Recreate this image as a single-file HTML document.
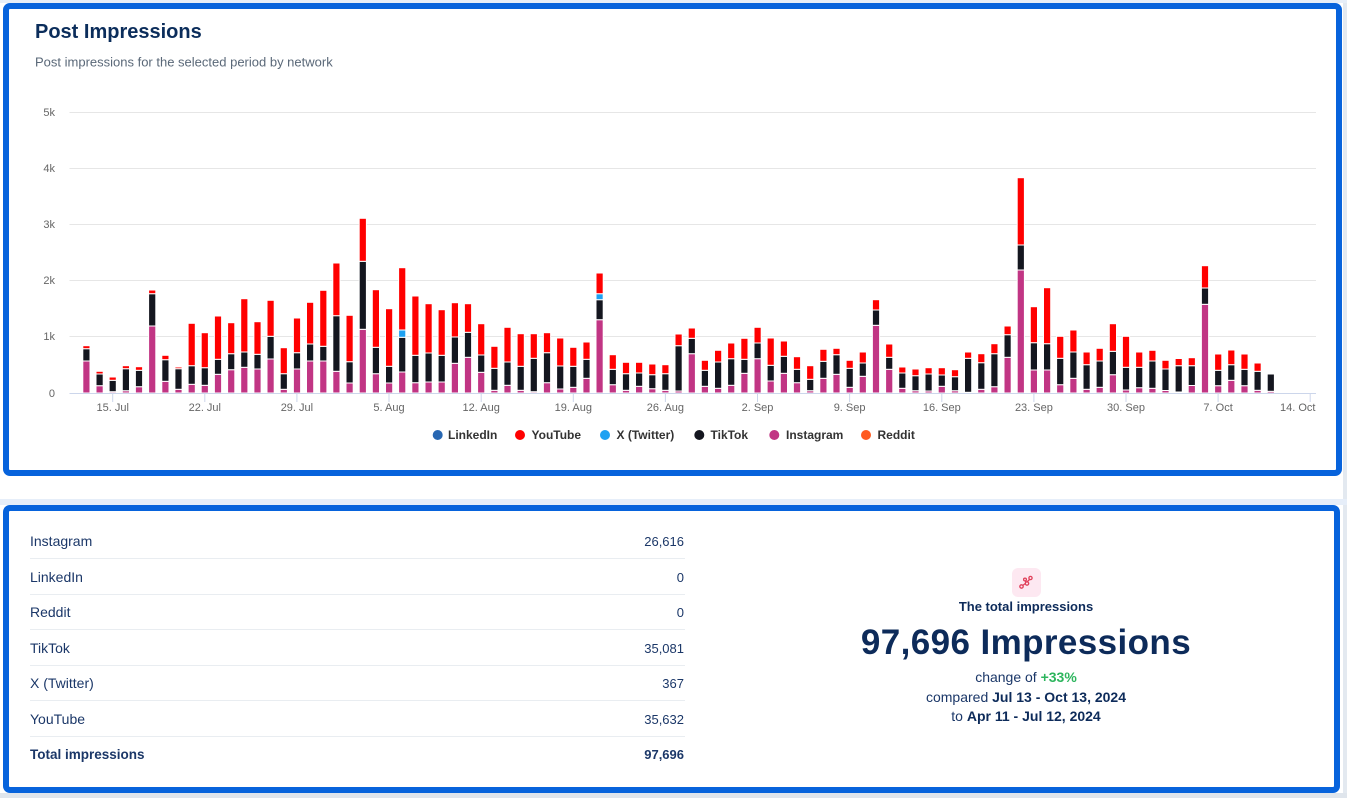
<!DOCTYPE html>
<html><head><meta charset="utf-8"><style>
*{margin:0;padding:0;box-sizing:border-box}
html,body{width:1347px;height:798px;overflow:hidden;background:#fff;font-family:"Liberation Sans",sans-serif}
.abs{position:absolute}
.panel{position:absolute;border:6px solid #0763dc;border-radius:7px;background:#fff}
.bars rect{width:7.2px;stroke:#fff;stroke-width:1}
.i{fill:#c13584}.t{fill:#14161f}.y{fill:#ff0000}.w{fill:#1da1f2}
.row{position:absolute;left:30px;width:655px;height:35px;border-bottom:1px solid #e9edf1;color:#1b3768;font-size:14px;line-height:35px}
.row span{position:absolute;right:1px;top:0;font-size:13px}
.row.tot{border-bottom:none;font-weight:bold;font-size:13.5px}
.c{position:absolute;left:726px;width:600px;text-align:center;color:#0d2b5a}
</style></head><body>
<div class="abs" style="left:1343px;top:0;width:4px;height:798px;background:#e3e9f0"></div>
<div class="abs" style="left:0;top:0;width:1347px;height:3px;background:#e6eef8"></div>
<div class="abs" style="left:0;top:499px;width:1347px;height:6px;background:#e6eef9"></div>
<div class="abs" style="left:0;top:793px;width:1347px;height:5px;background:#dfe5ec"></div>
<div class="panel" style="left:3px;top:3px;width:1339px;height:473px"></div>
<div class="panel" style="left:3px;top:505px;width:1337px;height:288px"></div>

<svg class="abs" style="left:0;top:0" width="1347" height="480" viewBox="0 0 1347 480" font-family="Liberation Sans, sans-serif">
<text x="35" y="38" font-size="20" font-weight="bold" fill="#0b2d5b">Post Impressions</text>
<text x="35" y="66.5" font-size="13" fill="#5a6878">Post impressions for the selected period by network</text>
<g stroke="#e6e6e6" stroke-width="1">
<line x1="69.5" x2="1316" y1="112.5" y2="112.5"/>
<line x1="69.5" x2="1316" y1="168.5" y2="168.5"/>
<line x1="69.5" x2="1316" y1="224.5" y2="224.5"/>
<line x1="69.5" x2="1316" y1="280.5" y2="280.5"/>
<line x1="69.5" x2="1316" y1="336.5" y2="336.5"/>
</g>
<g font-size="11" fill="#666" text-anchor="end">
<text x="55" y="116">5k</text><text x="55" y="172">4k</text><text x="55" y="228">3k</text>
<text x="55" y="284">2k</text><text x="55" y="340">1k</text><text x="55" y="397">0</text>
</g>
<g class="bars" transform="translate(-0.4,0)">
<g transform="translate(83.2)"><rect class="i" y="361" height="32"/><rect class="t" y="348.7" height="12.3"/><rect class="y" y="345.7" height="3"/></g>
<g transform="translate(96.4)"><rect class="i" y="385.7" height="7.3"/><rect class="t" y="374" height="11.7"/><rect class="y" y="371.3" height="2.7"/></g>
<g transform="translate(109.5)"><rect class="i" y="391.7" height="1.3"/><rect class="t" y="380.3" height="11.4"/><rect class="y" y="377" height="3.3"/></g>
<g transform="translate(122.7)"><rect class="i" y="390.7" height="2.3"/><rect class="t" y="368.7" height="22"/><rect class="y" y="365.7" height="3"/></g>
<g transform="translate(135.8)"><rect class="i" y="386.7" height="6.3"/><rect class="t" y="370.3" height="16.4"/><rect class="y" y="366.7" height="3.6"/></g>
<g transform="translate(149)"><rect class="i" y="326" height="67"/><rect class="t" y="293.7" height="32.3"/><rect class="y" y="290" height="3.7"/></g>
<g transform="translate(162.2)"><rect class="i" y="381.3" height="11.7"/><rect class="t" y="359.7" height="21.6"/><rect class="y" y="355.3" height="4.4"/></g>
<g transform="translate(175.3)"><rect class="i" y="389.3" height="3.7"/><rect class="t" y="368.7" height="20.6"/><rect class="y" y="367" height="1.7"/></g>
<g transform="translate(188.5)"><rect class="i" y="384.3" height="8.7"/><rect class="t" y="365.7" height="18.6"/><rect class="y" y="323.3" height="42.4"/></g>
<g transform="translate(201.6)"><rect class="i" y="385.3" height="7.7"/><rect class="t" y="367.7" height="17.6"/><rect class="y" y="332.7" height="35"/></g>
<g transform="translate(214.8)"><rect class="i" y="374.3" height="18.7"/><rect class="t" y="359.3" height="15"/><rect class="y" y="316" height="43.3"/></g>
<g transform="translate(228)"><rect class="i" y="369.7" height="23.3"/><rect class="t" y="353.7" height="16"/><rect class="y" y="322.7" height="31"/></g>
<g transform="translate(241.1)"><rect class="i" y="367.3" height="25.7"/><rect class="t" y="352" height="15.3"/><rect class="y" y="298.7" height="53.3"/></g>
<g transform="translate(254.3)"><rect class="i" y="369" height="24"/><rect class="t" y="354.3" height="14.7"/><rect class="y" y="321.7" height="32.6"/></g>
<g transform="translate(267.4)"><rect class="i" y="359" height="34"/><rect class="t" y="336.3" height="22.7"/><rect class="y" y="300.3" height="36"/></g>
<g transform="translate(280.6)"><rect class="i" y="389.3" height="3.7"/><rect class="t" y="373.7" height="15.6"/><rect class="y" y="347.7" height="26"/></g>
<g transform="translate(293.8)"><rect class="i" y="369" height="24"/><rect class="t" y="352.7" height="16.3"/><rect class="y" y="318" height="34.7"/></g>
<g transform="translate(306.9)"><rect class="i" y="361" height="32"/><rect class="t" y="344" height="17"/><rect class="y" y="302.3" height="41.7"/></g>
<g transform="translate(320.1)"><rect class="i" y="361" height="32"/><rect class="t" y="346.3" height="14.7"/><rect class="y" y="290.3" height="56"/></g>
<g transform="translate(333.2)"><rect class="i" y="371.3" height="21.7"/><rect class="t" y="315.7" height="55.6"/><rect class="y" y="263" height="52.7"/></g>
<g transform="translate(346.4)"><rect class="i" y="383" height="10"/><rect class="t" y="361.7" height="21.3"/><rect class="y" y="315.3" height="46.4"/></g>
<g transform="translate(359.6)"><rect class="i" y="329.3" height="63.7"/><rect class="t" y="261.3" height="68"/><rect class="y" y="218.3" height="43"/></g>
<g transform="translate(372.7)"><rect class="i" y="373.7" height="19.3"/><rect class="t" y="347.3" height="26.4"/><rect class="y" y="289.7" height="57.6"/></g>
<g transform="translate(385.9)"><rect class="i" y="383" height="10"/><rect class="t" y="366.3" height="16.7"/><rect class="y" y="308.7" height="57.6"/></g>
<g transform="translate(399)"><rect class="i" y="372" height="21"/><rect class="t" y="337.3" height="34.7"/><rect class="w" y="330" height="7.3"/><rect class="y" y="267.7" height="62.3"/></g>
<g transform="translate(412.2)"><rect class="i" y="382.7" height="10.3"/><rect class="t" y="355.3" height="27.4"/><rect class="y" y="296" height="59.3"/></g>
<g transform="translate(425.4)"><rect class="i" y="382" height="11"/><rect class="t" y="353" height="29"/><rect class="y" y="303.7" height="49.3"/></g>
<g transform="translate(438.5)"><rect class="i" y="382" height="11"/><rect class="t" y="355.3" height="26.7"/><rect class="y" y="309.7" height="45.6"/></g>
<g transform="translate(451.7)"><rect class="i" y="363.3" height="29.7"/><rect class="t" y="337" height="26.3"/><rect class="y" y="302.7" height="34.3"/></g>
<g transform="translate(464.8)"><rect class="i" y="357.3" height="35.7"/><rect class="t" y="332.3" height="25"/><rect class="y" y="303.7" height="28.6"/></g>
<g transform="translate(478)"><rect class="i" y="372.3" height="20.7"/><rect class="t" y="355" height="17.3"/><rect class="y" y="323.7" height="31.3"/></g>
<g transform="translate(491.2)"><rect class="i" y="390.3" height="2.7"/><rect class="t" y="368.3" height="22"/><rect class="y" y="346.3" height="22"/></g>
<g transform="translate(504.3)"><rect class="i" y="385.3" height="7.7"/><rect class="t" y="362" height="23.3"/><rect class="y" y="327.3" height="34.7"/></g>
<g transform="translate(517.5)"><rect class="i" y="390.3" height="2.7"/><rect class="t" y="366.3" height="24"/><rect class="y" y="333.7" height="32.6"/></g>
<g transform="translate(530.6)"><rect class="i" y="391.7" height="1.3"/><rect class="t" y="358.3" height="33.4"/><rect class="y" y="333.7" height="24.6"/></g>
<g transform="translate(543.8)"><rect class="i" y="382.7" height="10.3"/><rect class="t" y="352.7" height="30"/><rect class="y" y="332.7" height="20"/></g>
<g transform="translate(557)"><rect class="i" y="389" height="4"/><rect class="t" y="366" height="23"/><rect class="y" y="338" height="28"/></g>
<g transform="translate(570.1)"><rect class="i" y="387.3" height="5.7"/><rect class="t" y="366.3" height="21"/><rect class="y" y="347.3" height="19"/></g>
<g transform="translate(583.3)"><rect class="i" y="378.3" height="14.7"/><rect class="t" y="359.3" height="19"/><rect class="y" y="342" height="17.3"/></g>
<g transform="translate(596.4)"><rect class="i" y="319.7" height="73.3"/><rect class="t" y="299.7" height="20"/><rect class="w" y="293.7" height="6"/><rect class="y" y="273" height="20.7"/></g>
<g transform="translate(609.6)"><rect class="i" y="384.7" height="8.3"/><rect class="t" y="369.3" height="15.4"/><rect class="y" y="354.7" height="14.6"/></g>
<g transform="translate(622.8)"><rect class="i" y="390.3" height="2.7"/><rect class="t" y="373.7" height="16.6"/><rect class="y" y="362.3" height="11.4"/></g>
<g transform="translate(635.9)"><rect class="i" y="386.3" height="6.7"/><rect class="t" y="373" height="13.3"/><rect class="y" y="362.3" height="10.7"/></g>
<g transform="translate(649.1)"><rect class="i" y="388.7" height="4.3"/><rect class="t" y="374.7" height="14"/><rect class="y" y="364" height="10.7"/></g>
<g transform="translate(662.2)"><rect class="i" y="390.3" height="2.7"/><rect class="t" y="373.7" height="16.6"/><rect class="y" y="364.7" height="9"/></g>
<g transform="translate(675.4)"><rect class="i" y="391" height="2"/><rect class="t" y="345.7" height="45.3"/><rect class="y" y="334" height="11.7"/></g>
<g transform="translate(688.6)"><rect class="i" y="353.7" height="39.3"/><rect class="t" y="338.3" height="15.4"/><rect class="y" y="328" height="10.3"/></g>
<g transform="translate(701.7)"><rect class="i" y="386.3" height="6.7"/><rect class="t" y="370.3" height="16"/><rect class="y" y="360.3" height="10"/></g>
<g transform="translate(714.9)"><rect class="i" y="388.3" height="4.7"/><rect class="t" y="362" height="26.3"/><rect class="y" y="350.3" height="11.7"/></g>
<g transform="translate(728)"><rect class="i" y="385.3" height="7.7"/><rect class="t" y="358.7" height="26.6"/><rect class="y" y="343" height="15.7"/></g>
<g transform="translate(741.2)"><rect class="i" y="373.3" height="19.7"/><rect class="t" y="359.3" height="14"/><rect class="y" y="338.3" height="21"/></g>
<g transform="translate(754.4)"><rect class="i" y="358.7" height="34.3"/><rect class="t" y="343" height="15.7"/><rect class="y" y="327.3" height="15.7"/></g>
<g transform="translate(767.5)"><rect class="i" y="381" height="12"/><rect class="t" y="365.3" height="15.7"/><rect class="y" y="338" height="27.3"/></g>
<g transform="translate(780.7)"><rect class="i" y="373.3" height="19.7"/><rect class="t" y="356.3" height="17"/><rect class="y" y="341" height="15.3"/></g>
<g transform="translate(793.8)"><rect class="i" y="382.7" height="10.3"/><rect class="t" y="369.3" height="13.4"/><rect class="y" y="356.7" height="12.6"/></g>
<g transform="translate(807)"><rect class="i" y="390.7" height="2.3"/><rect class="t" y="379.3" height="11.4"/><rect class="y" y="365.7" height="13.6"/></g>
<g transform="translate(820.2)"><rect class="i" y="378.3" height="14.7"/><rect class="t" y="361.3" height="17"/><rect class="y" y="349.3" height="12"/></g>
<g transform="translate(833.3)"><rect class="i" y="374.3" height="18.7"/><rect class="t" y="354.7" height="19.6"/><rect class="y" y="348.3" height="6.4"/></g>
<g transform="translate(846.5)"><rect class="i" y="387.3" height="5.7"/><rect class="t" y="368.3" height="19"/><rect class="y" y="360.3" height="8"/></g>
<g transform="translate(859.6)"><rect class="i" y="376.3" height="16.7"/><rect class="t" y="363" height="13.3"/><rect class="y" y="352" height="11"/></g>
<g transform="translate(872.8)"><rect class="i" y="325.3" height="67.7"/><rect class="t" y="310" height="15.3"/><rect class="y" y="299.7" height="10.3"/></g>
<g transform="translate(886)"><rect class="i" y="369.3" height="23.7"/><rect class="t" y="357.3" height="12"/><rect class="y" y="344" height="13.3"/></g>
<g transform="translate(899.1)"><rect class="i" y="388.3" height="4.7"/><rect class="t" y="373" height="15.3"/><rect class="y" y="367" height="6"/></g>
<g transform="translate(912.3)"><rect class="i" y="390.7" height="2.3"/><rect class="t" y="375.7" height="15"/><rect class="y" y="369" height="6.7"/></g>
<g transform="translate(925.4)"><rect class="i" y="391" height="2"/><rect class="t" y="374" height="17"/><rect class="y" y="367.7" height="6.3"/></g>
<g transform="translate(938.6)"><rect class="i" y="386.3" height="6.7"/><rect class="t" y="375" height="11.3"/><rect class="y" y="367.7" height="7.3"/></g>
<g transform="translate(951.8)"><rect class="i" y="390.7" height="2.3"/><rect class="t" y="376.7" height="14"/><rect class="y" y="369.7" height="7"/></g>
<g transform="translate(964.9)"><rect class="i" y="392.3" height="0.7"/><rect class="t" y="358.3" height="34"/><rect class="y" y="352" height="6.3"/></g>
<g transform="translate(978.1)"><rect class="i" y="389.3" height="3.7"/><rect class="t" y="362.7" height="26.6"/><rect class="y" y="353.7" height="9"/></g>
<g transform="translate(991.2)"><rect class="i" y="386.7" height="6.3"/><rect class="t" y="353.7" height="33"/><rect class="y" y="343.7" height="10"/></g>
<g transform="translate(1004.4)"><rect class="i" y="357.3" height="35.7"/><rect class="t" y="334.7" height="22.6"/><rect class="y" y="326" height="8.7"/></g>
<g transform="translate(1017.6)"><rect class="i" y="270" height="123"/><rect class="t" y="245" height="25"/><rect class="y" y="177.7" height="67.3"/></g>
<g transform="translate(1030.7)"><rect class="i" y="370" height="23"/><rect class="t" y="342.7" height="27.3"/><rect class="y" y="306.7" height="36"/></g>
<g transform="translate(1043.9)"><rect class="i" y="370" height="23"/><rect class="t" y="343.7" height="26.3"/><rect class="y" y="287.7" height="56"/></g>
<g transform="translate(1057)"><rect class="i" y="384.7" height="8.3"/><rect class="t" y="358.3" height="26.4"/><rect class="y" y="336.3" height="22"/></g>
<g transform="translate(1070.2)"><rect class="i" y="378.3" height="14.7"/><rect class="t" y="352" height="26.3"/><rect class="y" y="330" height="22"/></g>
<g transform="translate(1083.4)"><rect class="i" y="389.3" height="3.7"/><rect class="t" y="364.7" height="24.6"/><rect class="y" y="352" height="12.7"/></g>
<g transform="translate(1096.5)"><rect class="i" y="387.3" height="5.7"/><rect class="t" y="361" height="26.3"/><rect class="y" y="348.3" height="12.7"/></g>
<g transform="translate(1109.7)"><rect class="i" y="374.7" height="18.3"/><rect class="t" y="351.3" height="23.4"/><rect class="y" y="323.7" height="27.6"/></g>
<g transform="translate(1122.8)"><rect class="i" y="390" height="3"/><rect class="t" y="367.3" height="22.7"/><rect class="y" y="336.3" height="31"/></g>
<g transform="translate(1136)"><rect class="i" y="387.7" height="5.3"/><rect class="t" y="367.3" height="20.4"/><rect class="y" y="352" height="15.3"/></g>
<g transform="translate(1149.2)"><rect class="i" y="388.3" height="4.7"/><rect class="t" y="361" height="27.3"/><rect class="y" y="350.3" height="10.7"/></g>
<g transform="translate(1162.3)"><rect class="i" y="390.5" height="2.5"/><rect class="t" y="369" height="21.5"/><rect class="y" y="360.3" height="8.7"/></g>
<g transform="translate(1175.5)"><rect class="i" y="392" height="1"/><rect class="t" y="365.7" height="26.3"/><rect class="y" y="358.5" height="7.2"/></g>
<g transform="translate(1188.6)"><rect class="i" y="385.5" height="7.5"/><rect class="t" y="365.7" height="19.8"/><rect class="y" y="357.7" height="8"/></g>
<g transform="translate(1201.8)"><rect class="i" y="304.3" height="88.7"/><rect class="t" y="288" height="16.3"/><rect class="y" y="265.7" height="22.3"/></g>
<g transform="translate(1215)"><rect class="i" y="385.7" height="7.3"/><rect class="t" y="370.3" height="15.4"/><rect class="y" y="354" height="16.3"/></g>
<g transform="translate(1228.1)"><rect class="i" y="380.3" height="12.7"/><rect class="t" y="364.7" height="15.6"/><rect class="y" y="350" height="14.7"/></g>
<g transform="translate(1241.3)"><rect class="i" y="385.7" height="7.3"/><rect class="t" y="369.3" height="16.4"/><rect class="y" y="354" height="15.3"/></g>
<g transform="translate(1254.4)"><rect class="i" y="390.3" height="2.7"/><rect class="t" y="371.3" height="19"/><rect class="y" y="363" height="8.3"/></g>
<g transform="translate(1267.6)"><rect class="i" y="391.3" height="1.7"/><rect class="t" y="374" height="17.3"/></g>
</g>
<line x1="69.5" x2="1316" y1="393.5" y2="393.5" stroke="#ccd6eb" stroke-width="1"/>
<g stroke="#ccd6eb" stroke-width="1">
<line x1="112.7" x2="112.7" y1="393" y2="402"/><line x1="204.8" x2="204.8" y1="393" y2="402"/>
<line x1="296.9" x2="296.9" y1="393" y2="402"/><line x1="389" x2="389" y1="393" y2="402"/>
<line x1="481.2" x2="481.2" y1="393" y2="402"/><line x1="573.3" x2="573.3" y1="393" y2="402"/>
<line x1="665.4" x2="665.4" y1="393" y2="402"/><line x1="757.5" x2="757.5" y1="393" y2="402"/>
<line x1="849.6" x2="849.6" y1="393" y2="402"/><line x1="941.8" x2="941.8" y1="393" y2="402"/>
<line x1="1033.9" x2="1033.9" y1="393" y2="402"/><line x1="1126" x2="1126" y1="393" y2="402"/>
<line x1="1218.1" x2="1218.1" y1="393" y2="402"/><line x1="1310.2" x2="1310.2" y1="393" y2="402"/>
</g>
<g font-size="11" fill="#666" text-anchor="middle">
<text x="112.7" y="411">15. Jul</text><text x="204.8" y="411">22. Jul</text>
<text x="296.9" y="411">29. Jul</text><text x="389" y="411">5. Aug</text>
<text x="481.2" y="411">12. Aug</text><text x="573.3" y="411">19. Aug</text>
<text x="665.4" y="411">26. Aug</text><text x="757.5" y="411">2. Sep</text>
<text x="849.6" y="411">9. Sep</text><text x="941.8" y="411">16. Sep</text>
<text x="1033.9" y="411">23. Sep</text><text x="1126" y="411">30. Sep</text>
<text x="1218.1" y="411">7. Oct</text><text x="1315.5" y="411" text-anchor="end">14. Oct</text>
</g>
<g font-size="12" font-weight="bold" fill="#333">
<circle cx="437.7" cy="435" r="5" fill="#2867b2"/><text x="448" y="439.2">LinkedIn</text>
<circle cx="520" cy="435" r="5" fill="#ff0000"/><text x="531.5" y="439.2">YouTube</text>
<circle cx="605" cy="435" r="5" fill="#1da1f2"/><text x="616.5" y="439.2">X (Twitter)</text>
<circle cx="699.3" cy="435" r="5" fill="#14161f"/><text x="710.5" y="439.2">TikTok</text>
<circle cx="774.3" cy="435" r="5" fill="#c13584"/><text x="786" y="439.2">Instagram</text>
<circle cx="866" cy="435" r="5" fill="#ff5a1f"/><text x="877.5" y="439.2">Reddit</text>
</g>
</svg>

<div class="row" style="top:524px">Instagram<span>26,616</span></div>
<div class="row" style="top:559.5px">LinkedIn<span>0</span></div>
<div class="row" style="top:595px">Reddit<span>0</span></div>
<div class="row" style="top:630.5px">TikTok<span>35,081</span></div>
<div class="row" style="top:666px">X (Twitter)<span>367</span></div>
<div class="row" style="top:701.5px">YouTube<span>35,632</span></div>
<div class="row tot" style="top:736.5px">Total impressions<span style="font-size:13px">97,696</span></div>

<svg class="abs" style="left:1012px;top:568px" width="29" height="29" viewBox="0 0 29 29">
<rect x="0" y="0" width="29" height="29" rx="6" fill="#fde8f1"/>
<g fill="none" stroke="#e0405a" stroke-width="1.3">
<line x1="10" y1="18" x2="14" y2="15"/><line x1="14" y1="15" x2="13" y2="12"/><line x1="14" y1="15" x2="18" y2="11"/>
<circle cx="9.5" cy="18.5" r="1.7" fill="#fde8f1"/><circle cx="15" cy="15.5" r="1.7" fill="#fde8f1"/>
<circle cx="13" cy="11.5" r="1.4" fill="#fde8f1"/><circle cx="18.5" cy="10" r="1.6" fill="#fde8f1"/>
</g>
</svg>
<div class="c" style="top:599px;font-size:13px;font-weight:bold;line-height:16px">The total impressions</div>
<div class="c" style="top:621px;font-size:35px;font-weight:bold;line-height:44px;letter-spacing:0.4px">97,696 Impressions</div>
<div class="c" style="top:668px;font-size:14px;line-height:19.5px;color:#1b3768">change of <b style="color:#2db55d">+33%</b><br>compared <b style="color:#0d2b5a">Jul 13 - Oct 13, 2024</b><br>to <b style="color:#0d2b5a">Apr 11 - Jul 12, 2024</b></div>
</body></html>
